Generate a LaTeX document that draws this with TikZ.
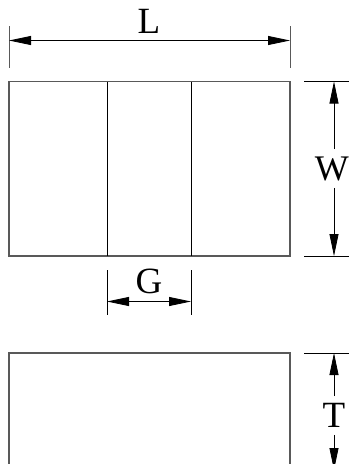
\documentclass[tikz,border=0pt]{standalone}
\usepackage{fontspec}
\setmainfont{Liberation Serif}
\usetikzlibrary{arrows.meta}
\tikzset{
	part/.style={draw=black!65, line width=1.2pt},
	inner/.style={draw=black, line width=0.8pt},
	tick/.style={draw=black!65, line width=1pt},
	dim/.style={draw=black, line width=0.8pt, {Triangle[length=22pt,width=9pt]}-{Triangle[length=22pt,width=9pt]}},
	halfdim/.style={draw=black, line width=0.8pt, -{Triangle[length=22pt,width=9pt]}},
	lbl/.style={font=\fontsize{37}{37}\selectfont, inner xsep=0pt, inner ysep=7pt}
}
\begin{document}
\begin{tikzpicture}[x=1pt, y=-1pt]
	\useasboundingbox (0,0) rectangle (349,464);
	\clip (0,0) rectangle (349,464);
	% top view
	\coordinate (p1) at (9,81.5);
	\coordinate (p2) at (290,81.5);
	\coordinate (p3) at (290,256);
	\coordinate (p4) at (9,256);
	\draw[part] (p1)--(p2)--(p3)--(p4)--cycle;
	\coordinate (g1a) at (107,81.5);
	\coordinate (g1b) at (107,256);
	\coordinate (g2a) at (191,81.5);
	\coordinate (g2b) at (191,256);
	\draw[inner] (g1a)--(g1b);
	\draw[inner] (g2a)--(g2b);

	% L
	\coordinate (l1a) at (9,26);
	\coordinate (l1b) at (9,68);
	\coordinate (l2a) at (290,26);
	\coordinate (l2b) at (290,68);
	\coordinate (l1) at (9,40.5);
	\coordinate (l2) at (290,40.5);
	\draw[tick] (l1a)--(l1b);
	\draw[tick] (l2a)--(l2b);
	\draw[dim] (l1)--(l2);
	\node[lbl] (L) at (149,21.5) {L};

	% W
	\coordinate (w1a) at (304,81.5);
	\coordinate (w1b) at (349,81.5);
	\coordinate (w2a) at (304,256);
	\coordinate (w2b) at (349,256);
	\coordinate (w1) at (334,81.5);
	\coordinate (w2) at (334,256);
	\draw[inner] (w1a)--(w1b);
	\draw[inner] (w2a)--(w2b);
	\node[lbl, font=\fontsize{36}{36}\selectfont] (W) at (331.8,168.5) {W};
	\draw[halfdim] (w1|-W.north)--(w1);
	\draw[halfdim] (w2|-W.south)--(w2);

	% G
	\coordinate (ga1) at (107,270);
	\coordinate (ga2) at (107,315);
	\coordinate (gb1) at (191,270);
	\coordinate (gb2) at (191,315);
	\coordinate (g1) at (107,301.5);
	\coordinate (g2) at (191,301.5);
	\draw[inner] (ga1)--(ga2);
	\draw[inner] (gb1)--(gb2);
	\draw[dim] (g1)--(g2);
	\node[lbl] (G) at (149,281.5) {G};

	% side view
	\coordinate (s1) at (9,480);
	\coordinate (s2) at (9,353);
	\coordinate (s3) at (290,353);
	\coordinate (s4) at (290,480);
	\draw[part] (s1)--(s2)--(s3)--(s4);

	% T
	\coordinate (t1a) at (304,353);
	\coordinate (t1b) at (349,353);
	\coordinate (t1) at (334,353);
	\coordinate (t2) at (334,470);
	\draw[inner] (t1a)--(t1b);
	\node[lbl] (T) at (334,415.5) {T};
	\draw[halfdim] (T.north)--(t1);
	\draw[halfdim] (T.south)--(t2);
\end{tikzpicture}
\end{document}
